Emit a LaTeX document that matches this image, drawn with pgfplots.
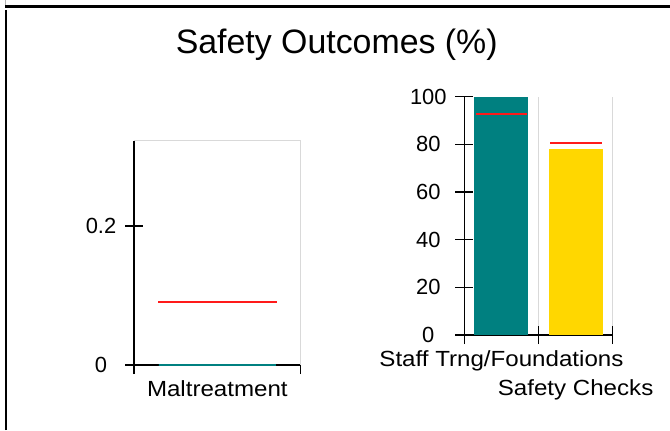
\documentclass[border=0pt]{standalone}
\usepackage{fontspec}
\setmainfont{Liberation Sans}
\newfontfamily\lblfont[FakeStretch=1.1]{Liberation Sans}
\usepackage{pgfplots}
\pgfplotsset{compat=1.18}
\definecolor{barteal}{HTML}{008080}
\definecolor{bargold}{HTML}{FFD700}
\definecolor{gridgray}{HTML}{D9D9D9}
\definecolor{refred}{HTML}{FF1A1A}
\pgfplotsset{
  common/.style={
    scale only axis, anchor=south west,
    axis lines*=left,
    axis line style={line width=1.6bp, black},
    tick align=center, major tick length=18bp,
    tick style={line width=1.5bp, black},
    /pgf/number format/assume math mode=true,
    yticklabel style={font=\fontsize{22}{26}\selectfont, anchor=center, inner sep=0pt},
    xticklabel style={font=\lblfont\fontsize{22}{26}\selectfont, anchor=base, inner sep=0pt, yshift=-31.7bp},
    clip=false,
  }
}
\begin{document}
\begin{tikzpicture}[x=1bp,y=1bp]
\useasboundingbox (0,0) rectangle (670,430);
% frame remnants
\draw[gray!60, line width=1bp] (5.5,430) -- (5.5,424);
\draw[black, line width=3bp] (5,423.5) -- (670,423.5);
\draw[black, line width=2bp] (5.7,0) -- (5.7,420);
% title
\node[font=\fontsize{34}{40}\selectfont, anchor=base, inner sep=0pt] at (336.7,376.7) {Safety Outcomes (\%)};

\begin{axis}[common, at={(134bp,65bp)}, width=166.7bp, height=224.3bp,
  xmin=-0.5, xmax=0.5, ymin=0, ymax=0.3227,
  xtick={-0.5,0.5}, xticklabels={},
  extra x ticks={0}, extra x tick labels={Maltreatment},
  extra x tick style={major tick length=0pt},
  ytick={0,0.2}, yticklabel style={xshift=-24bp},
]
\addplot[ybar, bar width=117bp, bar shift=0pt, fill=barteal, draw=barteal, line width=1.5bp] coordinates {(0,0)};
\addplot[refred, line width=2bp, no markers] coordinates {(-0.355,0.091) (0.36,0.091)};
\draw[gridgray, line width=1.5bp] (rel axis cs:0,1) -- (rel axis cs:1,1) -- (rel axis cs:1,0);
\end{axis}

\begin{axis}[common, at={(464.3bp,95bp)}, width=148.4bp, height=238.3bp,
  xmin=-0.5, xmax=1.5, ymin=0, ymax=100,
  xtick={-0.5,0.5,1.5}, xticklabels={},
  xmajorgrids, major grid style={gridgray, line width=1.5bp},
  extra x ticks={0,1},
  extra x tick labels={Staff Trng/Foundations,\raisebox{-29bp}{Safety Checks}},
  extra x tick style={major tick length=0pt, grid=none},
  ytick={0,20,40,60,80,100}, yticklabel style={xshift=-27bp},
]
\addplot[ybar, bar width=54bp, bar shift=0pt, fill=barteal, draw=none] coordinates {(0,100)};
\addplot[ybar, bar width=54bp, bar shift=0pt, fill=bargold, draw=none] coordinates {(1,78)};
\addplot[refred, line width=2bp, no markers] coordinates {(-0.343,92.9) (0.351,92.9)};
\addplot[refred, line width=2bp, no markers] coordinates {(0.657,80.4) (1.352,80.4)};
\end{axis}
\end{tikzpicture}
\end{document}
